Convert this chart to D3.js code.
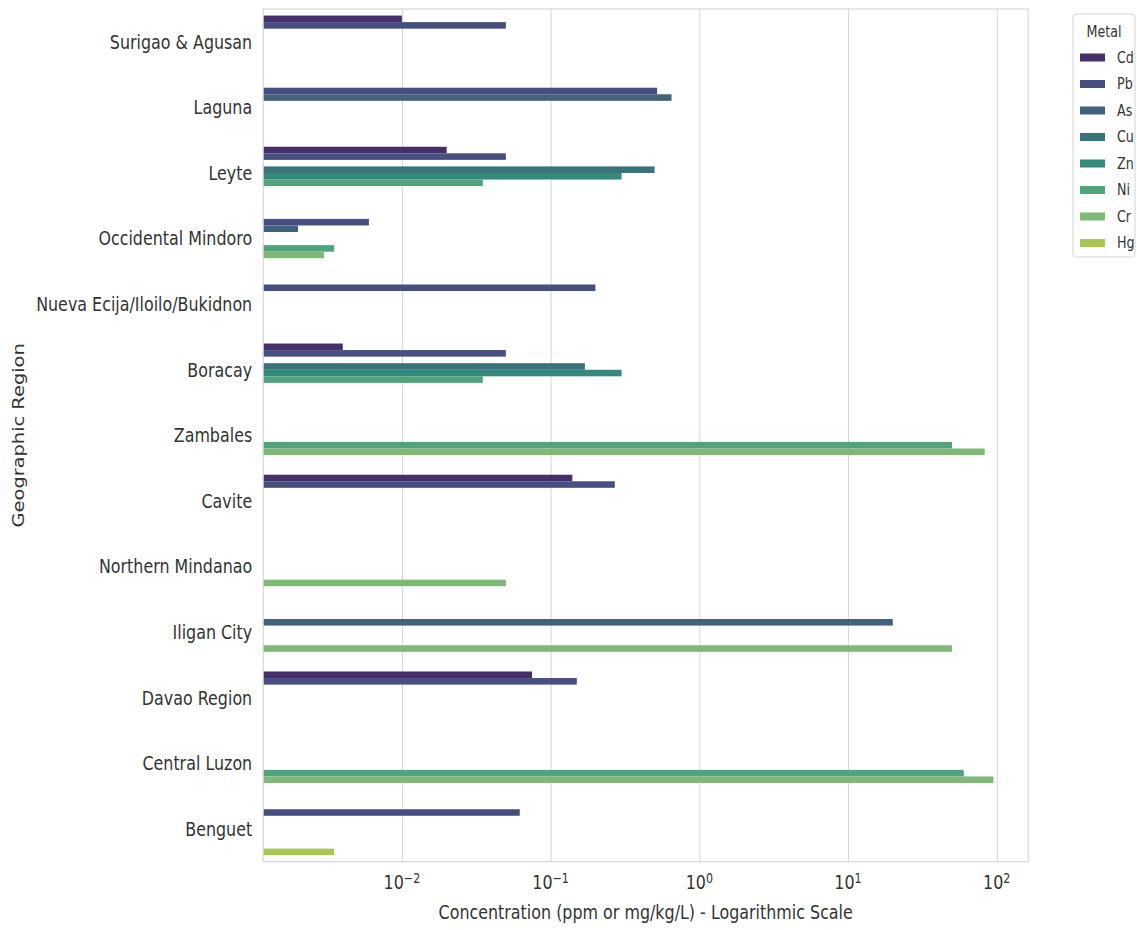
<!DOCTYPE html>
<html>
<head>
<meta charset="utf-8">
<script src="https://cdn.jsdelivr.net/npm/d3@7"></script>
<style>
  html, body { margin: 0; padding: 0; background: #ffffff; }
  svg { display: block; }
  text { font-family: "DejaVu Sans", sans-serif; fill: #333333; }
</style>
</head>
<body>
<svg id="chart" width="1137" height="930"></svg>
<script>
// Regions (top to bottom) and the metals measured in each
const regions = [
  "Surigao & Agusan", "Laguna", "Leyte", "Occidental Mindoro",
  "Nueva Ecija/Iloilo/Bukidnon", "Boracay", "Zambales", "Cavite",
  "Northern Mindanao", "Iligan City", "Davao Region", "Central Luzon", "Benguet"
];
const metals = ["Cd", "Pb", "As", "Cu", "Zn", "Ni", "Cr", "Hg"];

// Concentrations per metal, aligned with `regions` (null = not reported)
const cdValues = [0.01, null, 0.02, null, null, 0.004, null, 0.14, null, null, 0.075, null, null];
const pbValues = [0.05, 0.52, 0.05, 0.006, 0.2, 0.05, null, 0.27, null, null, 0.15, null, 0.062];
const asValues = [null, 0.65, null, 0.002, null, null, null, null, null, 20, null, null, null];
const cuValues = [null, null, 0.5, null, null, 0.17, null, null, null, null, null, null, null];
const znValues = [null, null, 0.3, null, null, 0.3, null, null, null, null, null, null, null];
const niValues = [null, null, 0.035, 0.0035, null, 0.035, 50, null, null, null, null, 60, null];
const crValues = [null, null, null, 0.003, null, null, 83, null, 0.05, 50, null, 95, null];
const hgValues = [null, null, null, null, null, null, null, null, null, null, null, null, 0.0035];

const seriesValues = [cdValues, pbValues, asValues, cuValues, znValues, niValues, crValues, hgValues];

// Muted viridis palette, one colour per metal
const metalColors = ["#45306a", "#474f82", "#40627f", "#38727a", "#328a7d", "#4ea47d", "#80b977", "#a9c552"];

// Log-axis ticks (powers of ten) and their exponents for the labels
const tickValues = [0.01, 0.1, 1, 10, 100];
const tickExponents = ["\u22122", "\u22121", "0", "1", "2"];

const xTitle = "Concentration (ppm or mg/kg/L) - Logarithmic Scale";
const yTitle = "Geographic Region";
const legendTitle = "Metal";

// ---- layout ----
const plot = { left: 263.2, right: 1028.2, top: 9, bottom: 861.7 };
const textScaleX = 0.82;   // narrow glyph proportions
const labelFont = 19.4;
const legendFont = 15.5;

const svg = d3.select("#chart");
svg.append("rect").attr("width", 1137).attr("height", 930).attr("fill", "#ffffff");

// flatten into records
const records = [];
regions.forEach((r, i) => {
  metals.forEach((m, j) => {
    const v = seriesValues[j][i];
    if (v != null) records.push({ region: r, metal: m, value: v });
  });
});

// x domain: data extent padded by 5% in log space
const logMin = Math.log10(d3.min(records, d => d.value));
const logMax = Math.log10(d3.max(records, d => d.value));
const span = logMax - logMin;
const x = d3.scaleLog()
  .domain([Math.pow(10, logMin - 0.05 * span), Math.pow(10, logMax + 0.05 * span)])
  .range([plot.left, plot.right]);

const y = d3.scaleBand().domain(regions).range([plot.top, plot.bottom]).padding(0);
const yInner = d3.scaleBand().domain(metals)
  .range([y.bandwidth() * 0.1, y.bandwidth() * 0.9]).padding(0);
const color = d3.scaleOrdinal().domain(metals).range(metalColors);

// vertical grid lines
const grid = svg.append("g")
  .attr("transform", `translate(0,${plot.bottom})`)
  .call(d3.axisBottom(x).tickValues(tickValues).tickSize(-(plot.bottom - plot.top)).tickFormat(""));
grid.select(".domain").remove();
grid.selectAll("line").attr("stroke", "#d6d6d6").attr("stroke-width", 1);

// bars
svg.append("g").selectAll("rect")
  .data(records)
  .join("rect")
  .attr("x", plot.left)
  .attr("y", d => y(d.region) + yInner(d.metal))
  .attr("width", d => x(d.value) - plot.left)
  .attr("height", yInner.bandwidth())
  .attr("fill", d => color(d.metal));

// frame
svg.append("rect")
  .attr("x", plot.left).attr("y", plot.top)
  .attr("width", plot.right - plot.left).attr("height", plot.bottom - plot.top)
  .attr("fill", "none").attr("stroke", "#d3d3d3").attr("stroke-width", 1.1);

// y axis labels
const yAxis = svg.append("g")
  .attr("transform", `translate(${plot.left},0)`)
  .call(d3.axisLeft(y).tickSize(0).tickPadding(0));
yAxis.select(".domain").remove();
yAxis.selectAll("text")
  .attr("x", 0)
  .attr("dy", "0.35em")
  .attr("transform", `translate(-11,0) scale(${textScaleX},1)`)
  .style("font-size", labelFont + "px")
  .style("font-family", "'DejaVu Sans', sans-serif")
  .attr("fill", "#333333");

// x tick labels as 10^n
const xTicks = svg.append("g");
tickValues.forEach((v, i) => {
  const t = xTicks.append("text")
    .attr("transform", `translate(${x(v)},889) scale(${textScaleX},1)`)
    .attr("text-anchor", "middle")
    .style("font-size", labelFont + "px");
  t.append("tspan").text("10");
  t.append("tspan").attr("dy", "-0.45em").style("font-size", "0.7em").text(tickExponents[i]);
});

// axis titles
svg.append("text")
  .attr("transform", `translate(${(plot.left + plot.right) / 2},919) scale(${textScaleX},1)`)
  .attr("text-anchor", "middle")
  .style("font-size", labelFont + "px")
  .text(xTitle);

svg.append("text")
  .attr("transform", `translate(24,${(plot.top + plot.bottom) / 2}) rotate(-90) scale(1,${textScaleX})`)
  .attr("text-anchor", "middle")
  .style("font-size", labelFont + "px")
  .text(yTitle);

// legend
const legend = svg.append("g");
legend.append("rect")
  .attr("x", 1073).attr("y", 14).attr("width", 62).attr("height", 243)
  .attr("rx", 3).attr("fill", "#ffffff").attr("fill-opacity", 0.8)
  .attr("stroke", "#d3d3d3").attr("stroke-width", 1);
legend.append("text")
  .attr("transform", `translate(1104,37) scale(${textScaleX},1)`)
  .attr("text-anchor", "middle")
  .style("font-size", legendFont + "px")
  .text(legendTitle);
const items = legend.selectAll("g.item")
  .data(metals)
  .join("g")
  .attr("class", "item")
  .attr("transform", (d, i) => `translate(0,${57.5 + i * 26.5})`);
items.append("rect")
  .attr("x", 1080).attr("y", -4).attr("width", 25).attr("height", 8)
  .attr("fill", d => color(d));
items.append("text")
  .attr("transform", `translate(1117,0) scale(${textScaleX},1)`)
  .attr("dy", "0.35em")
  .style("font-size", legendFont + "px")
  .text(d => d);
</script>
</body>
</html>
